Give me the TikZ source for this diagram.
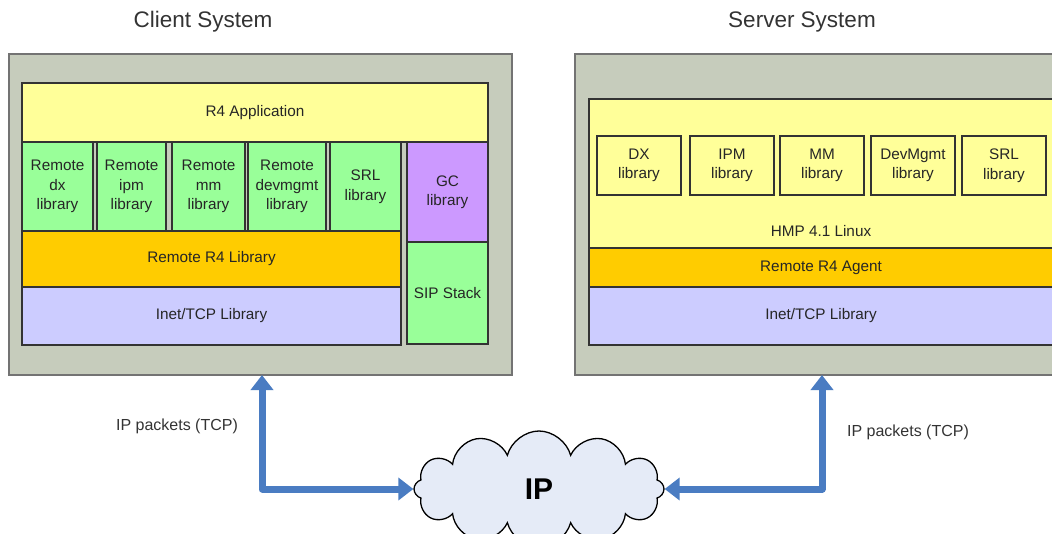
\documentclass[tikz,border=0pt]{standalone}
\usepackage{fontspec}
\setmainfont{Liberation Sans}
\usetikzlibrary{positioning, arrows.meta, shapes.symbols}
\definecolor{framegray}{HTML}{C6CCBC}
\definecolor{appyellow}{HTML}{FFFF99}
\definecolor{libgreen}{HTML}{99FF99}
\definecolor{gcpurple}{HTML}{CC99FF}
\definecolor{remorange}{HTML}{FFCC00}
\definecolor{netlilac}{HTML}{CCCCFF}
\definecolor{pipeblue}{HTML}{4A7CC2}
\definecolor{cloudfill}{HTML}{E5EBF7}

\begin{document}
\begin{tikzpicture}[x=1pt, y=-1pt,
  blk/.style={draw=black!80, line width=1.2pt, inner sep=0pt, align=center,
    font=\fontsize{15.3}{19.5}\selectfont, text=black!85},
  sys/.style={draw=black!55, line width=2pt, fill=framegray, inner sep=0pt},
  pipe/.style={line width=7pt, draw=pipeblue, line join=round,
    {Triangle[width=22pt,length=15pt]}-{Triangle[width=22pt,length=15pt]}},
  title/.style={font=\fontsize{22.5}{27}\selectfont, text=black!80},
  note/.style={font=\fontsize{16}{19}\selectfont, text=black!80}]
\useasboundingbox (0,0) rectangle (1052,533);
\clip (0,0) rectangle (1052,533);

% Client side
\node[title] (ctitle) at (203,22) {Client System};
\node[sys, minimum width=503pt, minimum height=321pt] (cout) at (260.5,214.5) {};
\node[blk, fill=appyellow, minimum width=466pt, minimum height=59pt] (app) at (255,112.5) {R4 Application};
\node[blk, fill=libgreen, minimum width=71pt, minimum height=89pt] (rdx) at (57.5,186.5) {Remote\\dx\\library};
\node[blk, fill=libgreen, minimum width=69pt, minimum height=89pt] (ripm) at (131.5,186.5) {Remote\\ipm\\library};
\node[blk, fill=libgreen, minimum width=73pt, minimum height=89pt] (rmm) at (208.5,186.5) {Remote\\mm\\library};
\node[blk, fill=libgreen, minimum width=78pt, minimum height=89pt] (rdev) at (287,186.5) {Remote\\devmgmt\\library};
\node[blk, fill=libgreen, minimum width=71pt, minimum height=89pt] (csrl) at (365.5,186.5) {SRL\\library};
\node[blk, fill=gcpurple, minimum width=81pt, minimum height=100pt] (gc) at (447.5,192) {GC\\library};
\node[blk, fill=libgreen, minimum width=81pt, minimum height=102pt] (sip) at (447.5,293) {SIP Stack};
\node[blk, fill=remorange, minimum width=379pt, minimum height=56pt] (rlib) at (211.5,259) {Remote R4 Library};
\node[blk, fill=netlilac, minimum width=379pt, minimum height=58pt] (cinet) at (211.5,316) {Inet/TCP Library};

% Server side
\node[title] (stitle) at (802,22) {Server System};
\node[sys, minimum width=495pt, minimum height=321pt] (sout) at (822.5,214.5) {};
\node[blk, fill=appyellow, minimum width=464pt, minimum height=149pt] (hmp) at (821,173.5) {};
\node[blk, fill=appyellow, minimum width=84pt, minimum height=59pt] (dx) at (639,165.5) {DX\\library};
\node[blk, fill=appyellow, minimum width=84pt, minimum height=59pt] (ipm) at (732,165.5) {IPM\\library};
\node[blk, fill=appyellow, minimum width=84pt, minimum height=59pt] (mm) at (822,165.5) {MM\\library};
\node[blk, fill=appyellow, minimum width=84pt, minimum height=59pt] (dev) at (913,165.5) {DevMgmt\\library};
\node[blk, fill=appyellow, minimum width=84pt, minimum height=59pt] (ssrl) at (1004,165.5) {SRL\\library};
\node[blk, draw=none] (hmplbl) at (821,231) {HMP 4.1 Linux};
\node[blk, fill=remorange, minimum width=464pt, minimum height=39pt] (agent) at (821,267.5) {Remote R4 Agent};
\node[blk, fill=netlilac, minimum width=464pt, minimum height=58pt] (sinet) at (821,316) {Inet/TCP Library};

% Network
\node[cloud, draw=black, line width=1.3pt, fill=cloudfill, cloud puffs=12,
  aspect=2.2, minimum width=250pt, minimum height=116pt, inner sep=0pt,
  font=\bfseries\fontsize{30}{36}\selectfont] (ip) at (539,489) {IP};
\coordinate (cport) at (262,375);
\coordinate (sport) at (822,375);
\draw[pipe] (cport) |- (ip.west);
\draw[pipe] (sport) |- (ip.east);
\node[note] (cpkt) at (177,426) {IP packets (TCP)};
\node[note] (spkt) at (908,432) {IP packets (TCP)};
\end{tikzpicture}
\end{document}
